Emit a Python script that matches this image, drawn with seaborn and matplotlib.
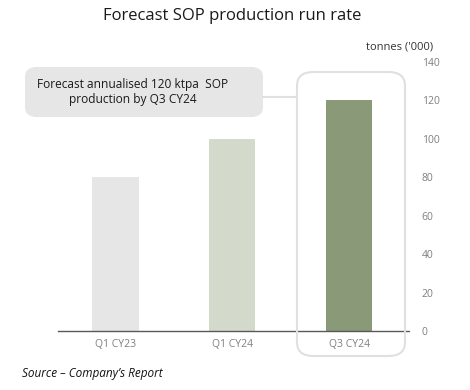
import matplotlib
matplotlib.use('Agg')
import matplotlib.pyplot as plt
from matplotlib.patches import FancyBboxPatch
import seaborn as sns
import pandas as pd

periods = ['Q1 CY23', 'Q1 CY24', 'Q3 CY24']
production = [80, 100, 120]
bar_colors = ['#e6e6e6', '#d3dcc9', '#8a9e72']
y_ticks = [0, 20, 40, 60, 80, 100, 120, 140]

df = pd.DataFrame({'period': periods, 'production': production})

sns.set_theme(style='white')
plt.rcParams['font.family'] = ['Open Sans', 'DejaVu Sans']

fig = plt.figure(figsize=(4.7, 3.9), dpi=100)
ax = fig.add_axes([0.123, 0.151, 0.739, 0.690])

sns.barplot(data=df, x='period', y='production', hue='period',
            palette=bar_colors, width=0.4, legend=False, ax=ax,
            linewidth=0)

ax.set_xlim(-0.49, 2.48)
ax.set_ylim(0, 140)
ax.set_yticks(y_ticks)
ax.yaxis.tick_right()
ax.tick_params(axis='y', length=0, pad=12, labelsize=7.5, labelcolor='#7f7f7f')
ax.tick_params(axis='x', length=0, pad=6, labelsize=7.5, labelcolor='#7f7f7f')
ax.set_xlabel('')
ax.set_ylabel('')
for s in ['top', 'left', 'right']:
    ax.spines[s].set_visible(False)
ax.spines['bottom'].set_color('#595959')
ax.spines['bottom'].set_linewidth(1.0)

# small tick at zero on the right side
ax.plot([1.0, 1.012], [0, 0], transform=ax.transAxes, color='#595959',
        lw=1.0, clip_on=False)

# highlight box around last bar
hl = FancyBboxPatch((297 / 470, 1 - 356 / 390), 108 / 470, 284 / 390,
                    boxstyle='round,pad=0,rounding_size=0.035',
                    transform=fig.transFigure, facecolor='none',
                    edgecolor='#e0e0e0', linewidth=1.5, clip_on=False)
fig.add_artist(hl)

# connector line
fig.add_artist(plt.Line2D([263 / 470, 297 / 470], [1 - 97 / 390, 1 - 97 / 390],
                          transform=fig.transFigure, color='#e0e0e0', lw=1.5))

# annotation box
box = FancyBboxPatch((25 / 470, 1 - 117 / 390), 238 / 470, 50 / 390,
                     boxstyle='round,pad=0,rounding_size=0.025',
                     transform=fig.transFigure, facecolor='#e6e6e6',
                     edgecolor='none')
fig.add_artist(box)
fig.text(133 / 470, 1 - 92 / 390,
         'Forecast annualised 120 ktpa  SOP\nproduction by Q3 CY24',
         ha='center', va='center', fontsize=8.6, color='#1a1a1a', linespacing=1.15)

fig.text(232 / 470, 1 - 16 / 390, 'Forecast SOP production run rate',
         ha='center', va='center', fontsize=12, color='#1a1a1a')
fig.text(433 / 470, 1 - 47 / 390, "tonnes ('000)",
         ha='right', va='center', fontsize=8, color='#333333')
fig.text(22 / 470, 1 - 374 / 390, 'Source \u2013 Company\u2019s Report',
         ha='left', va='center', fontsize=8.5, style='italic', color='#111111')

fig.savefig('out.png', dpi=100, facecolor='white')
